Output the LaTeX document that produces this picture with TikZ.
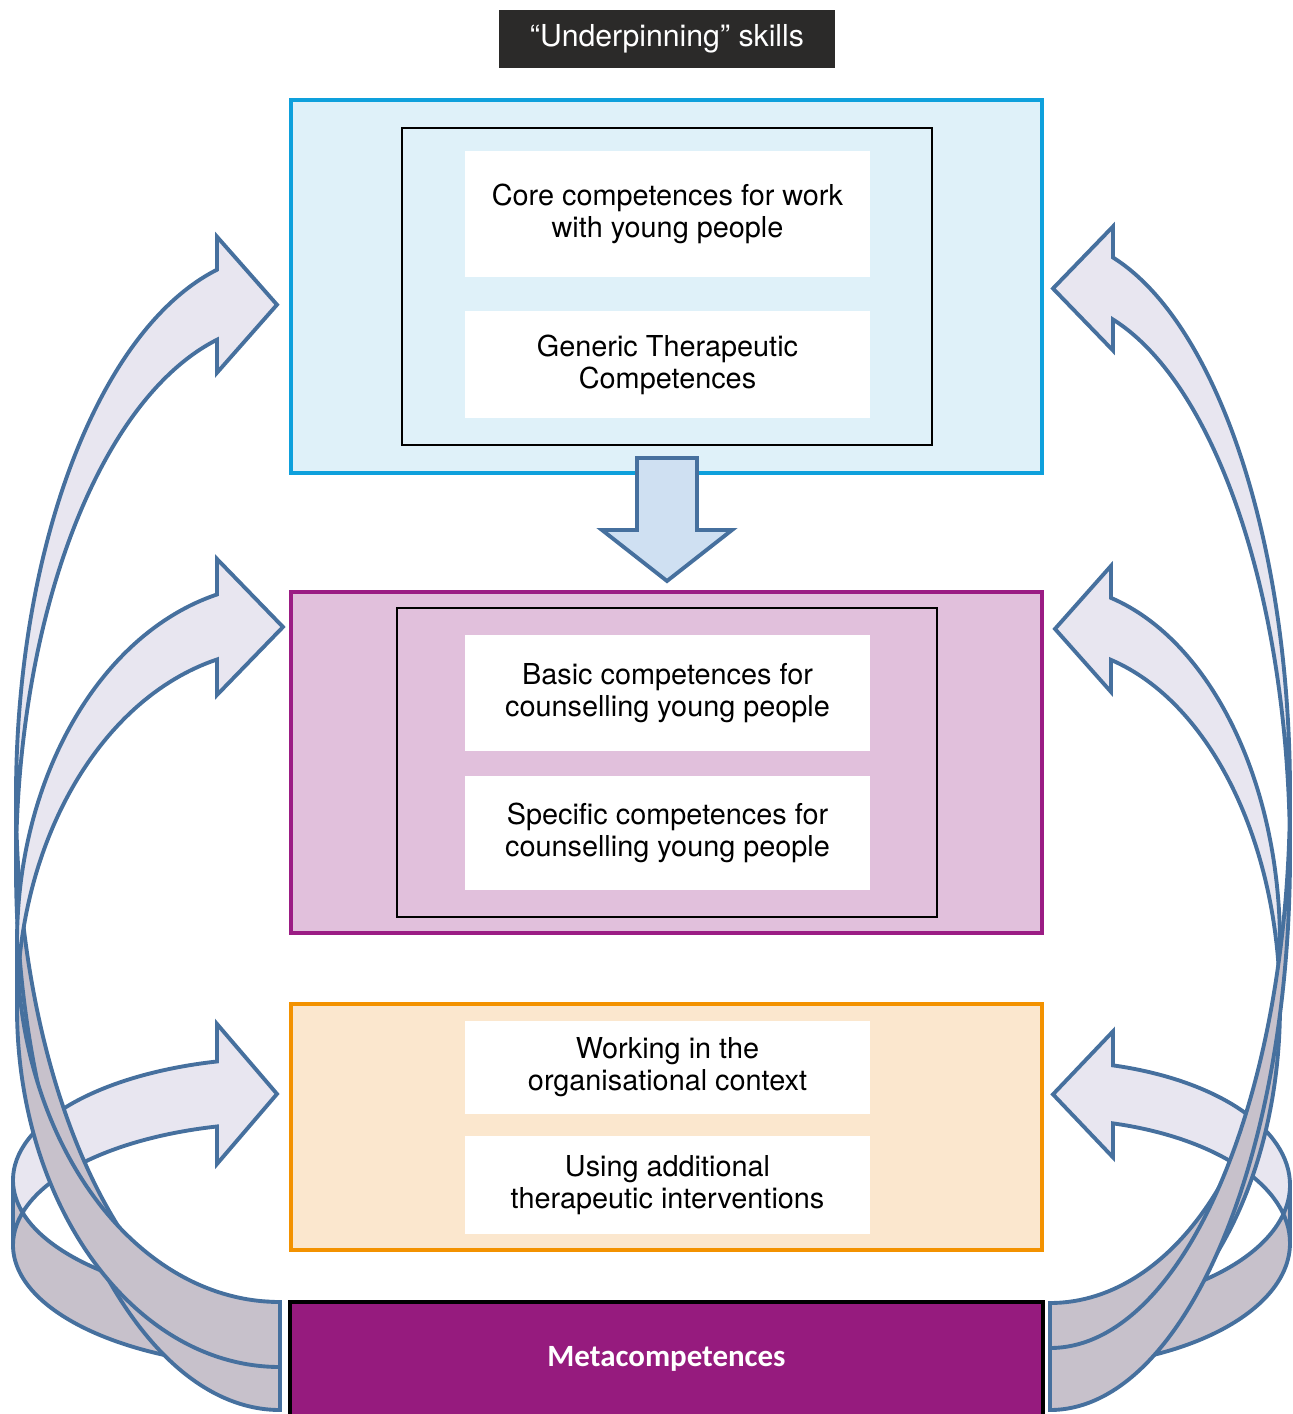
\documentclass[tikz,border=0pt]{standalone}
\usepackage{fontspec}
\setmainfont{TeX Gyre Heros}
\newfontfamily\metafont{Carlito}
\usepackage{tikz}

\definecolor{ribbonblue}{HTML}{46709E}
\definecolor{ribbonlight}{HTML}{E8E6F0}
\definecolor{ribbondark}{HTML}{C7C1CB}
\definecolor{coreline}{HTML}{0EA0DC}
\definecolor{corefill}{HTML}{DFF1F9}
\definecolor{basicline}{HTML}{9B1C84}
\definecolor{basicfill}{HTML}{E1C0DC}
\definecolor{contextline}{HTML}{F39200}
\definecolor{contextfill}{HTML}{FBE7CE}
\definecolor{metafill}{HTML}{961B7E}
\definecolor{skillsfill}{HTML}{2B2A29}
\definecolor{pushfill}{HTML}{CFE0F2}

\tikzset{title box/.style={fill=skillsfill, text=white, minimum width=3.36cm, minimum height=0.58cm, font=\fontsize{8.6}{10}\selectfont}}
\tikzset{frame/.style={draw, line width=1.1pt, minimum width=7.51cm}}
\tikzset{inner frame/.style={draw=black, line width=0.6pt}}
\tikzset{text box/.style={fill=white, minimum width=4.05cm}}
\tikzset{meta box/.style={draw=black, line width=1.2pt, fill=metafill, text=white, minimum width=7.53cm, minimum height=1.14cm, font=\metafont\bfseries\fontsize{8.8}{10}\selectfont}}
\tikzset{push arrow/.style={draw=ribbonblue, fill=pushfill, line width=1.1pt}}
\tikzset{ribbon front/.style={fill=ribbonlight}}
\tikzset{ribbon back/.style={fill=ribbondark}}
\tikzset{ribbon edge/.style={draw=ribbonblue, line width=1.1pt, line join=miter}}

% curved ribbon arrow: tail x, leftmost x, upper centre y, y radius, thickness,
% notch x, tip x, half head width
\newcommand{\ribbon}[8]{%
	\pgfmathsetmacro{\rbrx}{#1-#2}
	\pgfmathsetmacro{\rbcy}{#3+#5}
	\pgfmathsetmacro{\rbtha}{360-acos((#6-#1)/\rbrx)}
	\pgfmathsetmacro{\rbyu}{#3+#4*sin(\rbtha)}
	\pgfmathsetmacro{\rbyl}{\rbyu+#5}
	\pgfmathsetmacro{\rbym}{\rbyu+#5/2}
	% top side with head
	\fill[ribbon front] (#2,#3) arc[start angle=180, end angle=\rbtha, x radius=\rbrx, y radius=#4]
		-- (#6,\rbym-#8) -- (#7,\rbym) -- (#6,\rbym+#8) -- (#6,\rbyl)
		arc[start angle=\rbtha, end angle=180, x radius=\rbrx, y radius=#4] -- cycle;
	% under side
	\fill[ribbon back] (#1,\rbcy+#4) arc[start angle=90, end angle=180, x radius=\rbrx, y radius=#4]
		-- (#2,#3) arc[start angle=180, end angle=90, x radius=\rbrx, y radius=#4] -- cycle;
	% outline
	\draw[ribbon edge] (#2,\rbcy) arc[start angle=180, end angle=\rbtha, x radius=\rbrx, y radius=#4]
		-- (#6,\rbym+#8) -- (#7,\rbym) -- (#6,\rbym-#8) -- (#6,\rbyu)
		arc[start angle=\rbtha, end angle=180, x radius=\rbrx, y radius=#4] -- (#2,\rbcy)
		arc[start angle=180, end angle=90, x radius=\rbrx, y radius=#4] -- ++(0,-#5)
		arc[start angle=90, end angle=180, x radius=\rbrx, y radius=#4];
}

\begin{document}
\begin{tikzpicture}[x=0.01cm, y=-0.01cm]
	% Default action for each node
	\tikzstyle{every node}=[inner sep=0pt, align=center, font=\fontsize{8.2}{9.1}\selectfont];

	\useasboundingbox (0,0) rectangle (1293,1414);

	% Title
	\node[title box] (skills) at (667,39) {“Underpinning” skills};

	% Core block
	\node[frame, draw=coreline, fill=corefill, minimum height=3.73cm] (core) at (666.5,286.5) {};
	\node[inner frame, minimum width=5.30cm, minimum height=3.17cm] (core inner) at (667,286.5) {};
	\node[text box, minimum height=1.26cm] (core work) at (667.5,214) {Core competences for work\\with young people};
	\node[text box, minimum height=1.07cm] (generic) at (667.5,364.5) {Generic Therapeutic\\Competences};

	% Push down
	\draw[push arrow] (637,458) -- (697,458) -- (697,530) -- (732,530) -- (667,581) -- (602,530) -- (637,530) -- cycle;

	% Counselling block
	\node[frame, draw=basicline, fill=basicfill, minimum height=3.41cm] (basic) at (666.5,762.5) {};
	\node[inner frame, minimum width=5.40cm, minimum height=3.09cm] (basic inner) at (667,762.5) {};
	\node[text box, minimum height=1.16cm] (basic young) at (667.5,693) {Basic competences for\\counselling young people};
	\node[text box, minimum height=1.14cm] (specific young) at (667.5,833) {Specific competences for\\counselling young people};

	% Context block
	\node[frame, draw=contextline, fill=contextfill, minimum height=2.46cm] (context) at (666.5,1127) {};
	\node[text box, minimum height=0.93cm] (organisation) at (667.5,1067.5) {Working in the\\organisational context};
	\node[text box, minimum height=0.98cm] (additional) at (667.5,1185) {Using additional\\therapeutic interventions};

	% Metacompetences
	\node[meta box] (meta) at (666.5,1359) {Metacompetences};

	% LHS ribbons
	\ribbon{280}{13}{1180}{122}{65}{217}{277}{70}
	\ribbon{280}{16}{797}{543}{70}{217}{277}{68}
	\ribbon{280}{17}{943}{359}{65}{217}{283}{68}

	% RHS ribbons
	\begin{scope}[shift={(1330,0)}, xscale=-1]
		\ribbon{280}{40}{1185}{124}{58}{217}{277}{63}
		\ribbon{280}{50}{944}{359}{62}{219}{275}{63}
		\ribbon{280}{40}{793}{555}{62}{217}{277}{62}
	\end{scope}

\end{tikzpicture}
\end{document}
